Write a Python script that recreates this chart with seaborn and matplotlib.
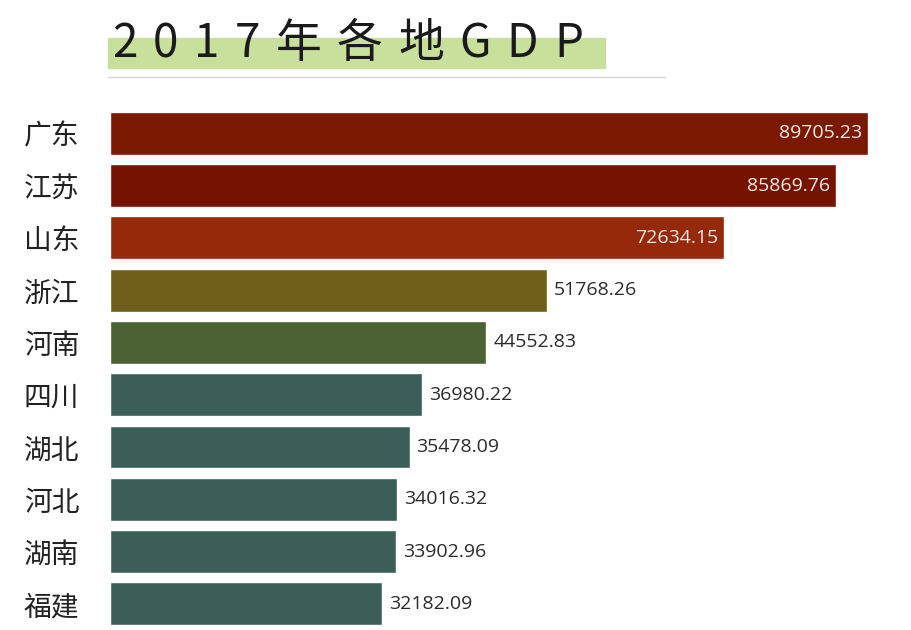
import pandas as pd
import matplotlib.pyplot as plt
import seaborn as sns
from matplotlib.patches import Rectangle
from matplotlib.lines import Line2D

# Data
provinces = ['广东', '江苏', '山东', '浙江', '河南', '四川', '湖北', '河北', '湖南', '福建']
gdp = [89705.23, 85869.76, 72634.15, 51768.26, 44552.83, 36980.22, 35478.09, 34016.32, 33902.96, 32182.09]
bar_colors = ['#7a1800', '#751300', '#95290a', '#6e6018', '#4b6232',
              '#3b5f58', '#3b5f58', '#3b5f58', '#3b5f58', '#3b5f58']
title_chars = ['2', '0', '1', '7', '年', '各', '地', 'G', 'D', 'P']

df = pd.DataFrame({'province': provinces, 'gdp': gdp})

sns.set_theme(style='white')
plt.rcParams['font.family'] = ['Noto Sans CJK SC', 'DejaVu Sans']

W, H = 912, 630
fig = plt.figure(figsize=(W / 100, H / 100), dpi=100)
fig.patch.set_facecolor('white')

# Title with green highlight and thin rule underneath
fig.patches.append(Rectangle((108 / W, 1 - 68 / H), 497 / W, 30 / H,
                             transform=fig.transFigure, color='#c9e09c', zorder=0))
fig.lines.append(Line2D([108 / W, 665 / W], [1 - 77 / H, 1 - 77 / H],
                        transform=fig.transFigure, color='#d6d6d6', lw=1))

# letter-spaced title: measure glyphs, then spread them to the target width
renderer = fig.canvas.get_renderer()
texts = [fig.text(0, 1 - 44 / H, c, fontsize=33, color='#1a1a1a',
                  ha='left', va='center', zorder=2) for c in title_chars]
widths = [t.get_window_extent(renderer).width for t in texts]
track = (471 - sum(widths)) / (len(texts) - 1)
x = 112
for t, w in zip(texts, widths):
    t.set_x(x / W)
    x += w + track

ax = fig.add_axes([110 / W, 0, 790 / W, 0.83])
sns.barplot(data=df, x='gdp', y='province', hue='province', palette=bar_colors,
            legend=False, width=0.82, saturation=1, ax=ax)

ax.set_xlim(0, 93490)
ax.set_xlabel('')
ax.set_ylabel('')
ax.set_xticks([])
sns.despine(ax=ax, left=True, bottom=True)
ax.tick_params(axis='y', length=0, pad=22, labelsize=20, labelcolor='#222222')

# Value labels: inside for the top three, outside for the rest
for i, v in enumerate(gdp):
    if i < 3:
        ax.text(v - 700, i, f'{v:.2f}', ha='right', va='center', fontsize=14,
                color='#f7ebe6', family=['Open Sans', 'DejaVu Sans'])
    else:
        ax.text(v + 800, i, f'{v:.2f}', ha='left', va='center', fontsize=14,
                color='#2b2b2b', family=['Open Sans', 'DejaVu Sans'])

fig.savefig('out.png', dpi=100, facecolor='white')
